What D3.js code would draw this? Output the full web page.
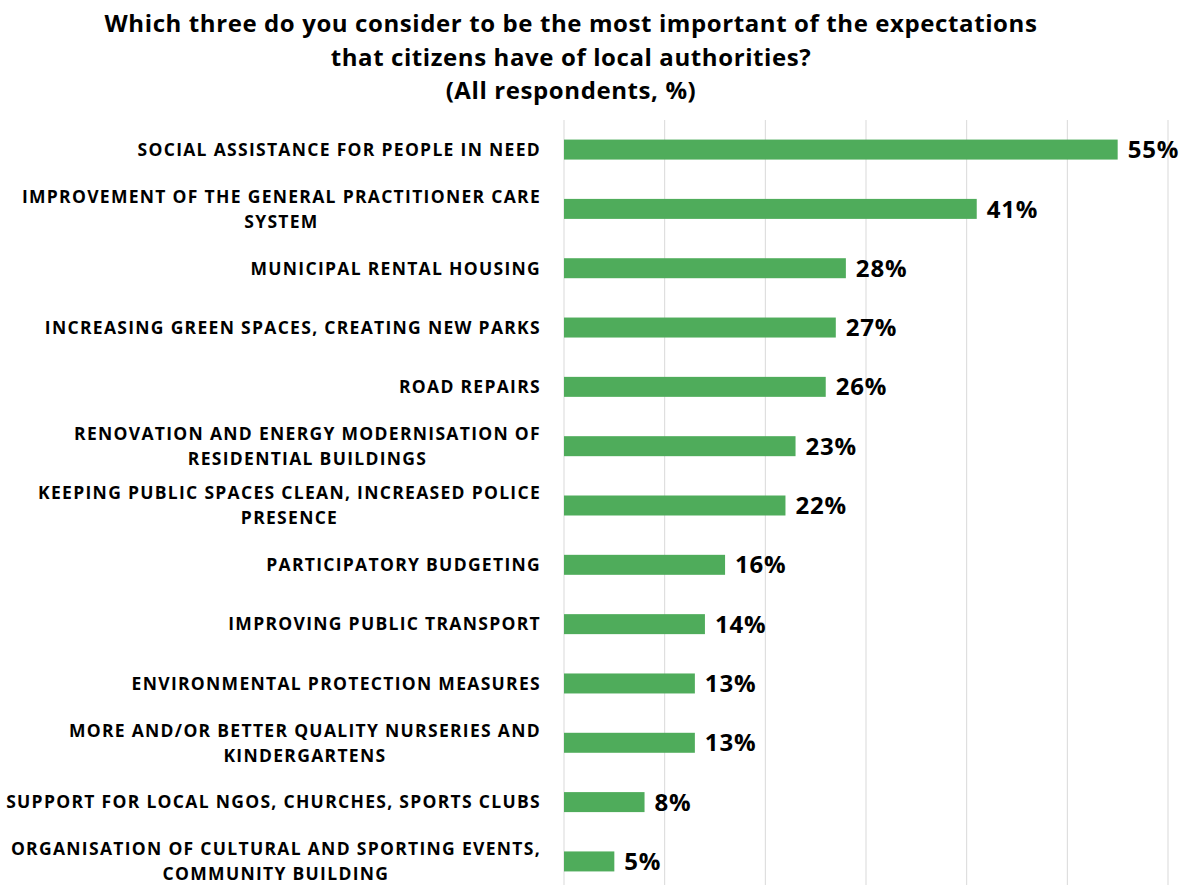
<!DOCTYPE html>
<html>
<head>
<meta charset="utf-8">
<script src="https://cdn.jsdelivr.net/npm/d3@7"></script>
<style>
  html, body { margin: 0; padding: 0; background: #ffffff; }
  svg { display: block; }
  text { font-family: "Open Sans", "Lato", sans-serif; font-weight: bold; fill: #000; }
</style>
</head>
<body>
<svg id="chart" width="1185" height="885"></svg>
<script>
const titleLines = [
  "Which three do you consider to be the most important of the expectations",
  "that citizens have of local authorities?",
  "(All respondents, %)"
];
const categories = [
  ["SOCIAL ASSISTANCE FOR PEOPLE IN NEED"],
  ["IMPROVEMENT OF THE GENERAL PRACTITIONER CARE", "SYSTEM"],
  ["MUNICIPAL RENTAL HOUSING"],
  ["INCREASING GREEN SPACES, CREATING NEW PARKS"],
  ["ROAD REPAIRS"],
  ["RENOVATION AND ENERGY MODERNISATION OF", "RESIDENTIAL BUILDINGS"],
  ["KEEPING PUBLIC SPACES CLEAN, INCREASED POLICE", "PRESENCE"],
  ["PARTICIPATORY BUDGETING"],
  ["IMPROVING PUBLIC TRANSPORT"],
  ["ENVIRONMENTAL PROTECTION MEASURES"],
  ["MORE AND/OR BETTER QUALITY NURSERIES AND", "KINDERGARTENS"],
  ["SUPPORT FOR LOCAL NGOS, CHURCHES, SPORTS CLUBS"],
  ["ORGANISATION OF CULTURAL AND SPORTING EVENTS,", "COMMUNITY BUILDING"]
];
const values = [55, 41, 28, 27, 26, 23, 22, 16, 14, 13, 13, 8, 5];
const gridTicks = [0, 10, 20, 30, 40, 50, 60];

const svg = d3.select("#chart");
const plot = { left: 564, right: 1168, top: 120, bottom: 891 };

const x = d3.scaleLinear().domain([0, 60]).range([plot.left, plot.right]);
const y = d3.scaleBand().domain(d3.range(categories.length)).range([plot.top, plot.bottom]).paddingInner(0.663).paddingOuter(0.33);

// title
svg.append("g").selectAll("text").data(titleLines).join("text")
  .attr("x", 571).attr("y", (d, i) => 32 + i * 33.5)
  .attr("text-anchor", "middle")
  .style("font-size", "24px")
  .style("letter-spacing", "0.6px")
  .text(d => d);

// gridlines
svg.append("g").selectAll("line").data(gridTicks).join("line")
  .attr("x1", d => x(d)).attr("x2", d => x(d))
  .attr("y1", plot.top).attr("y2", 885)
  .attr("stroke", "#d9d9d9").attr("stroke-width", 1);

// bars
svg.append("g").selectAll("rect").data(values).join("rect")
  .attr("x", x(0))
  .attr("y", (d, i) => y(i))
  .attr("width", d => x(d) - x(0))
  .attr("height", y.bandwidth())
  .attr("fill", "#4fac5b");

// value labels
svg.append("g").selectAll("text").data(values).join("text")
  .attr("x", d => x(d) + 10)
  .attr("y", (d, i) => y(i) + y.bandwidth() / 2)
  .attr("dy", "0.36em")
  .style("font-size", "24px")
  .style("letter-spacing", "0.8px")
  .text(d => d + "%");

// category labels
const labelRight = 541;
const lg = svg.append("g");
categories.forEach((lines, i) => {
  const cy = y(i) + y.bandwidth() / 2;
  if (lines.length === 1) {
    lg.append("text")
      .attr("x", labelRight).attr("y", cy).attr("dy", "0.36em")
      .attr("text-anchor", "end")
      .style("font-size", "17.5px")
      .style("letter-spacing", "1.3px")
      .text(lines[0]);
  } else {
    const t = lg.append("text")
      .attr("text-anchor", "middle")
      .style("font-size", "17.5px")
      .style("letter-spacing", "1.3px");
    lines.forEach((l, j) => t.append("tspan").attr("y", cy - 12.5 + j * 25).attr("dy", "0.36em").text(l));
    const widths = [];
    t.selectAll("tspan").each(function() { widths.push(this.getComputedTextLength()); });
    const maxW = d3.max(widths);
    t.selectAll("tspan").attr("x", labelRight - maxW / 2);
  }
});
</script>
</body>
</html>
